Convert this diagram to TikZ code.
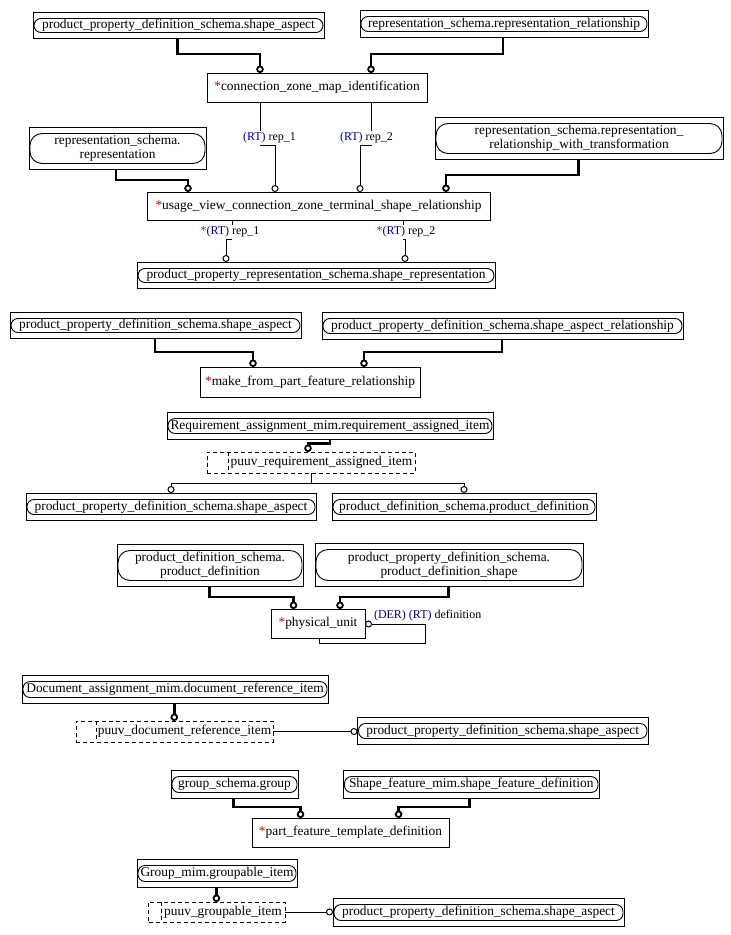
\documentclass[tikz,border=0pt]{standalone}
\usepackage{fontspec}
\setmainfont{Liberation Serif}
\usetikzlibrary{arrows.meta}
\definecolor{starred}{RGB}{200,0,0}
\definecolor{rtblue}{RGB}{0,0,140}
\newcommand\st{\textcolor{starred}{*}}
\newcommand\RT{\textcolor{rtblue}{(RT)}}
\newcommand\DER{\textcolor{rtblue}{(DER)}}
% external (referenced) entity: outer rectangle + inner rounded rectangle
\newcommand\extbox[7][7]{%
  \node[box, minimum width={#5-#3}, minimum height={#6-#4}] (#2) at ({(#3+#5)/2},{(#4+#6)/2}) {};
  \node[inbox, rounded corners=#1, minimum width={#5-#3-2}, minimum height={#6-#4-12}] (#2-in) at ([yshift=-0.5pt]#2.center) {#7};
}
% local entity
\newcommand\entbox[6]{%
  \node[box, txt, minimum width={#4-#2}, minimum height={#5-#3}] (#1) at ({(#2+#4)/2},{(#3+#5)/2}) {#6};
}
% select type
\newcommand\selbox[7]{%
  \node[draw, dsh, inner sep=0pt, outer sep=0pt, minimum width={#4-#2}, minimum height={#5-#3}] (#1) at ({(#2+#4)/2},{(#3+#5)/2}) {};
  \draw[dsh] (#1.north -| #6,0) -- (#1.south -| #6,0);
  \node[txt] (#1-t) at ({(#6+#4)/2},{(#3+#5)/2}) {#7};
}
\begin{document}
\begin{tikzpicture}[x=1pt,y=-1pt,line width=1pt,
  box/.style={draw, inner sep=0pt, outer sep=0pt, line width=1pt},
  inbox/.style={draw, inner sep=0pt, line width=0.9pt, align=center, font=\fontsize{13.4}{14.4}\selectfont},
  txt/.style={inner sep=0pt, font=\fontsize{13.4}{14.4}\selectfont},
  lbl/.style={inner sep=1.5pt, font=\fontsize{12}{13}\selectfont},
  thk/.style={line width=2.4pt, -{Circle[length=7.5pt,width=7.5pt,fill=white,line width=1.8pt]}},
  thn/.style={line width=1pt, -{Circle[length=7pt,width=7pt,fill=white,line width=1pt]}},
  seg/.style={line width=1pt},
  dsh/.style={dash pattern=on 4pt off 3pt, line width=1pt}]
\useasboundingbox (0,0) rectangle (731,935);

% ---------- group 1 ----------
\extbox{A1}{33}{12}{324}{38}{product\_property\_definition\_schema.shape\_aspect}
\extbox{A2}{360}{10}{648}{37}{representation\_schema.representation\_relationship}
\entbox{A3}{207}{73}{427}{102}{\st connection\_zone\_map\_identification}
\draw[thk] (A1.south -| 177.5,0) |- (260,54) -- (A3.north -| 260,0);
\draw[thk] (A2.south -| 503,0) |- (371,54) -- (A3.north -| 371,0);

\extbox[12]{A4}{29}{127}{206}{169}{representation\_schema.\\representation}
\extbox[12]{A5}{435}{117}{723}{159}{representation\_schema.representation\_\\relationship\_with\_transformation}
\entbox{A6}{147}{192}{490}{220}{\st usage\_view\_connection\_zone\_terminal\_shape\_relationship}
\draw[thk] (A4.south -| 116,0) |- (188,180) -- (A6.north -| 188,0);
\draw[thk] (A5.south -| 578.5,0) |- (446,175) -- (A6.north -| 446,0);

\node[lbl] (L1) at (269.5,138) {\RT{} rep\_1};
\node[lbl] (L2) at (366.5,138) {\RT{} rep\_2};
\draw[seg] (A3.south -| 260,0) -- (L1.north -| 260,0);
\draw[thn] (L1.south -| 260,0) -| (A6.north -| 275,0);
\draw[seg] (A3.south -| 371.5,0) -- (L2.north -| 371.5,0);
\draw[thn] (L2.south -| 371.5,0) -| (A6.north -| 360,0);

\extbox{A7}{137}{262}{495}{288}{product\_property\_representation\_schema.shape\_representation}
\node[lbl] (L3) at (230,232) {\st\RT{} rep\_1};
\node[lbl] (L4) at (406,232) {\st\RT{} rep\_2};
\draw[seg] (A6.south -| 232,0) -- (L3.north -| 232,0);
\draw[thn] (L3.south -| 232,0) -| (A7.north -| 226,0);
\draw[seg] (A6.south -| 403,0) -- (L4.north -| 403,0);
\draw[thn] (L4.south -| 403,0) -| (A7.north -| 405,0);

% ---------- group 2 ----------
\extbox{B1}{10}{312}{301}{338}{product\_property\_definition\_schema.shape\_aspect}
\extbox{B2}{322}{312}{683}{339}{product\_property\_definition\_schema.shape\_aspect\_relationship}
\entbox{B3}{200}{367}{420}{397}{\st make\_from\_part\_feature\_relationship}
\draw[thk] (B1.south -| 155,0) |- (253,352) -- (B3.north -| 253,0);
\draw[thk] (B2.south -| 502,0) |- (364,352) -- (B3.north -| 364,0);

% ---------- group 3 ----------
\extbox{C1}{167}{412}{493}{439}{Requirement\_assignment\_mim.requirement\_assigned\_item}
\selbox{C2}{207}{452}{415}{473}{228}{puuv\_requirement\_assigned\_item}
\draw[thk] (C1.south -| 330,0) |- (308,443.5) -- (C2.north -| 308,0);
\extbox{C3}{26}{493}{316}{520}{product\_property\_definition\_schema.shape\_aspect}
\extbox{C4}{332}{493}{596}{520}{product\_definition\_schema.product\_definition}
\coordinate (C2j) at (311,483);
\draw[seg] (C2.south -| C2j) -- (C2j);
\draw[thn] (C2j) -| (C3.north -| 171,0);
\draw[thn] (C2j) -| (C4.north -| 464,0);

% ---------- group 4 ----------
\extbox[12]{D1}{117}{544}{303}{586}{product\_definition\_schema.\\product\_definition}
\extbox[12]{D2}{315}{543}{583}{586}{product\_property\_definition\_schema.\\product\_definition\_shape}
\entbox{D3}{271}{609}{365}{638}{\st physical\_unit}
\draw[thk] (D1.south -| 209.3,0) |- (293.5,597) -- (D3.north -| 293.5,0);
\draw[thk] (D2.south -| 448.6,0) |- (340,597) -- (D3.north -| 340,0);
\node[lbl, anchor=west] (L5) at (372,615.5) {\DER{} \RT{} definition};
\draw[thn] (D3.south -| 319,0) -- (319,643.5) -| (425,624) -- (D3.east |- 0,624);

% ---------- group 5 ----------
\extbox{E1}{22}{675}{328}{703}{Document\_assignment\_mim.document\_reference\_item}
\selbox{E2}{76}{721}{273}{742}{96}{puuv\_document\_reference\_item}
\draw[thk] (E1.south -| 174.3,0) -- (E2.north -| 174.3,0);
\extbox{E3}{357.5}{717}{648}{744}{product\_property\_definition\_schema.shape\_aspect}
\draw[thn] (E2.east) -- (E3.west |- E2.east);

% ---------- group 6 ----------
\extbox{F1}{171}{770}{298}{798}{group\_schema.group}
\extbox{F2}{343.5}{770}{599}{798}{Shape\_feature\_mim.shape\_feature\_definition}
\entbox{F3}{252}{818}{449}{847}{\st part\_feature\_template\_definition}
\draw[thk] (F1.south -| 233.6,0) |- (300.5,807) -- (F3.north -| 300.5,0);
\draw[thk] (F2.south -| 469.6,0) |- (398.6,807) -- (F3.north -| 398.6,0);

% ---------- group 7 ----------
\extbox{G1}{137}{859}{297}{887}{Group\_mim.groupable\_item}
\selbox{G2}{148.6}{902}{285}{922}{161}{puuv\_groupable\_item}
\draw[thk] (G1.south -| 216.4,0) -- (G2.north -| 216.4,0);
\extbox{G3}{333}{898}{624}{926}{product\_property\_definition\_schema.shape\_aspect}
\draw[thn] (G2.east) -- (G3.west |- G2.east);
\end{tikzpicture}
\end{document}
